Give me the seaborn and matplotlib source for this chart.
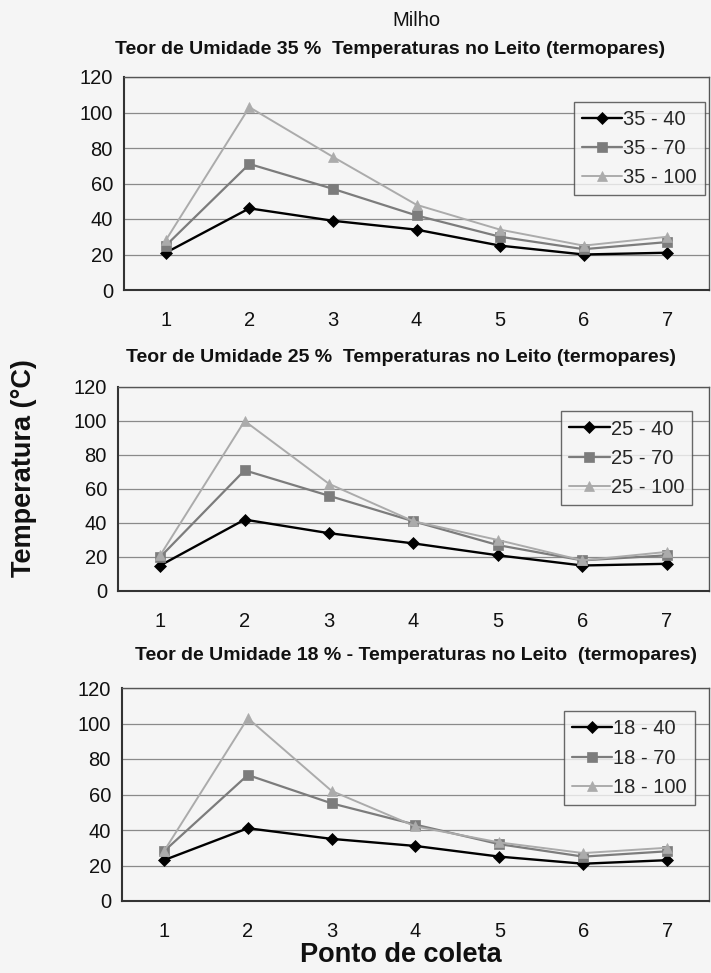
import matplotlib
matplotlib.use("Agg")
import matplotlib.pyplot as plt
import seaborn as sns
import pandas as pd
import numpy as np

sns.set_theme(style="white")
plt.rcParams['font.family'] = ['Liberation Sans', 'DejaVu Sans']

pontos = [1, 2, 3, 4, 5, 6, 7]

# Teor de Umidade 35 %
s35_40 = [21, 46, 39, 34, 25, 20, 21]
s35_70 = [25, 71, 57, 42, 30, 23, 27]
s35_100 = [28, 103, 75, 48, 34, 25, 30]
# Teor de Umidade 25 %
s25_40 = [15, 42, 34, 28, 21, 15, 16]
s25_70 = [20, 71, 56, 41, 27, 18, 21]
s25_100 = [21, 100, 63, 41, 30, 18, 23]
# Teor de Umidade 18 %
s18_40 = [23, 41, 35, 31, 25, 21, 23]
s18_70 = [28, 71, 55, 43, 32, 25, 28]
s18_100 = [28, 103, 62, 42, 33, 27, 30]

titles = [
    "Teor de Umidade 35 %  Temperaturas no Leito (termopares)",
    "Teor de Umidade 25 %  Temperaturas no Leito (termopares)",
    "Teor de Umidade 18 % - Temperaturas no Leito  (termopares)",
]
panels = [
    [("35 - 40", s35_40), ("35 - 70", s35_70), ("35 - 100", s35_100)],
    [("25 - 40", s25_40), ("25 - 70", s25_70), ("25 - 100", s25_100)],
    [("18 - 40", s18_40), ("18 - 70", s18_70), ("18 - 100", s18_100)],
]

W, H = 711, 973
fig = plt.figure(figsize=(W / 100, H / 100), dpi=100)
bg = '#f5f5f5'
fig.patch.set_facecolor(bg)

# axes boxes in pixel coords: (left, top, right, bottom)
boxes = [(124, 77, 709, 290), (118, 387, 709, 591), (122, 688, 709, 901)]
legend_boxes = [(0.769, 0.883), (0.75, 0.88), (0.753, 0.89)]
title_pos = [(390, 49), (401, 358), (416, 656)]

styles = [
    dict(color='#000000', marker='D', markersize=6.5, lw=1.7),
    dict(color='#7c7c7c', marker='s', markersize=7.5, lw=1.6),
    dict(color='#ababab', marker='^', markersize=7.5, lw=1.4),
]

for i, (box, series) in enumerate(zip(boxes, panels)):
    l, t, r, b = box
    ax = fig.add_axes([l / W, 1 - b / H, (r - l) / W, (b - t) / H])
    ax.set_facecolor(bg)
    for (name, vals), st in zip(series, styles):
        df = pd.DataFrame({"Ponto": pontos, "T": vals})
        sns.lineplot(data=df, x="Ponto", y="T", ax=ax, label=name,
                     color=st['color'], marker=st['marker'],
                     markersize=st['markersize'], linewidth=st['lw'],
                     markeredgecolor=st['color'], markeredgewidth=0.5)
    ax.set_xlim(0.5, 7.5)
    ax.set_ylim(0, 120)
    ax.set_yticks([0, 20, 40, 60, 80, 100, 120])
    ax.set_xticks(np.arange(0.5, 8.0, 1.0))
    ax.set_xticklabels([])
    ax.set_xticks(pontos, minor=True)
    ax.set_xticklabels([str(p) for p in pontos], minor=True)
    ax.tick_params(axis='x', which='major', direction='out', length=5, width=1, color='#333333')
    ax.tick_params(axis='x', which='minor', length=0, pad=15, labelsize=14.5, labelcolor='#111111')
    ax.tick_params(axis='y', direction='out', length=5, width=1, color='#333333',
                   labelsize=14.5, labelcolor='#111111', pad=3)
    ax.grid(axis='y', color='#8a8a8a', lw=0.9)
    ax.set_axisbelow(True)
    for s in ax.spines.values():
        s.set_color('#555555')
        s.set_linewidth(1.0)
    ax.spines['left'].set_color('#333333')
    ax.spines['left'].set_linewidth(1.5)
    ax.spines['bottom'].set_color('#333333')
    ax.spines['bottom'].set_linewidth(1.5)
    ax.set_xlabel("")
    ax.set_ylabel("")
    lx, ly = legend_boxes[i]
    leg = ax.legend(loc='upper left', bbox_to_anchor=(lx, ly), frameon=True,
                    fancybox=False, edgecolor='#444444', facecolor=bg,
                    fontsize=14.5, handlelength=2.0, handletextpad=0.05,
                    borderpad=0.4, labelspacing=0.5, borderaxespad=0)
    leg.get_frame().set_linewidth(1.0)
    tx, ty = title_pos[i]
    fig.text(tx / W, 1 - ty / H, titles[i], ha='center', va='center',
             fontsize=14, fontweight='bold', color='#111111')

fig.text(416 / W, 1 - 21 / H, "Milho", ha='center', va='center', fontsize=14.5, color='#111111')
fig.text(24 / W, 1 - 468 / H, "Temperatura (°C)", ha='center', va='center', rotation=90,
         fontsize=19.5, fontweight='bold', color='#111111')
fig.text(401 / W, 1 - 955 / H, "Ponto de coleta", ha='center', va='center',
         fontsize=19.5, fontweight='bold', color='#111111')

fig.savefig("out.png", dpi=100, facecolor=bg)
